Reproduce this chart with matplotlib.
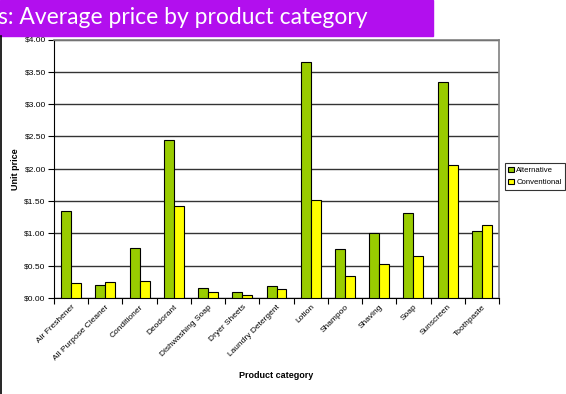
import matplotlib
matplotlib.use("Agg")
from matplotlib import pyplot as plt
import matplotlib.patches as mpatches
from matplotlib.lines import Line2D
import numpy as np

categories = ["Air Freshener", "All Purpose Cleaner", "Conditioner", "Deodorant",
              "Dishwashing Soap", "Dryer Sheets", "Laundry Detergent", "Lotion",
              "Shampoo", "Shaving", "Soap", "Sunscreen", "Toothpaste"]
alternative = [1.35, 0.20, 0.77, 2.45, 0.15, 0.09, 0.18, 3.65, 0.76, 1.01, 1.32, 3.35, 1.04]
conventional = [0.23, 0.24, 0.26, 1.43, 0.10, 0.05, 0.14, 1.52, 0.34, 0.53, 0.65, 2.06, 1.13]
yticks = [0, 0.5, 1.0, 1.5, 2.0, 2.5, 3.0, 3.5, 4.0]

plt.rcParams['font.family'] = ['Liberation Sans', 'DejaVu Sans']

W, H = 566, 394
fig = plt.figure(figsize=(W / 100, H / 100), dpi=100)

# purple title banner (cut off on the left, like the slide)
fig.patches.append(mpatches.Rectangle((0, 1 - 36 / H), 433 / W, 36 / H,
                                      transform=fig.transFigure, color="#B20FEE", zorder=0))
fig.text(-2 / W, 1 - 18 / H, "s: Average price by product category", color="white",
         fontsize=16.5, family=["Lato", "DejaVu Sans"], ha="left", va="center")
# slide frame line on the left
fig.lines.append(Line2D([1 / W, 1 / W], [0, 1 - 36 / H], transform=fig.transFigure,
                        color="black", lw=1.2))

ax = fig.add_axes([54 / W, 96 / H, 445 / W, 258.5 / H])
x = np.arange(len(categories))
bw = 0.29
ax.bar(x - bw / 2, alternative, bw, color="#99CC00", edgecolor="black", lw=0.8,
       label="Alternative", zorder=3)
ax.bar(x + bw / 2, conventional, bw, color="#FFFF00", edgecolor="black", lw=0.8,
       label="Conventional", zorder=3)

ax.set_xlim(-0.5, len(categories) - 0.5)
ax.set_ylim(0, 4)
ax.set_yticks(yticks)
ax.set_yticklabels([f"${v:.2f}" for v in yticks], fontsize=6)
ax.yaxis.grid(True, color="#333333", lw=1.0, zorder=1)

ax.set_xticks(x)
ax.set_xticklabels(categories, rotation=45, ha="right", rotation_mode="anchor", fontsize=6)
ax.tick_params(axis="x", length=0, pad=4)
ax.set_xticks(np.arange(len(categories) + 1) - 0.5, minor=True)
ax.tick_params(axis="x", which="minor", length=4, width=0.8, direction="out")
ax.tick_params(axis="y", length=4, width=0.8, pad=2)

for s in ["top", "right"]:
    ax.spines[s].set_color("#808080")
    ax.spines[s].set_linewidth(1.2)
for s in ["left", "bottom"]:
    ax.spines[s].set_color("black")
    ax.spines[s].set_linewidth(0.8)

ax.set_ylabel("Unit price", fontsize=6.5, fontweight="bold", labelpad=3)
ax.set_xlabel("Product category", fontsize=6.5, fontweight="bold", labelpad=7)

leg = ax.legend(loc="center left", bbox_to_anchor=(451 / 445, 0.47),
                fontsize=5.6, frameon=True, fancybox=False, handlelength=0.7,
                handleheight=0.7, handletextpad=0.3, borderpad=0.45, labelspacing=0.6,
                borderaxespad=0)
leg.get_frame().set_edgecolor("black")
leg.get_frame().set_linewidth(0.8)

fig.savefig("out.png", dpi=100)
